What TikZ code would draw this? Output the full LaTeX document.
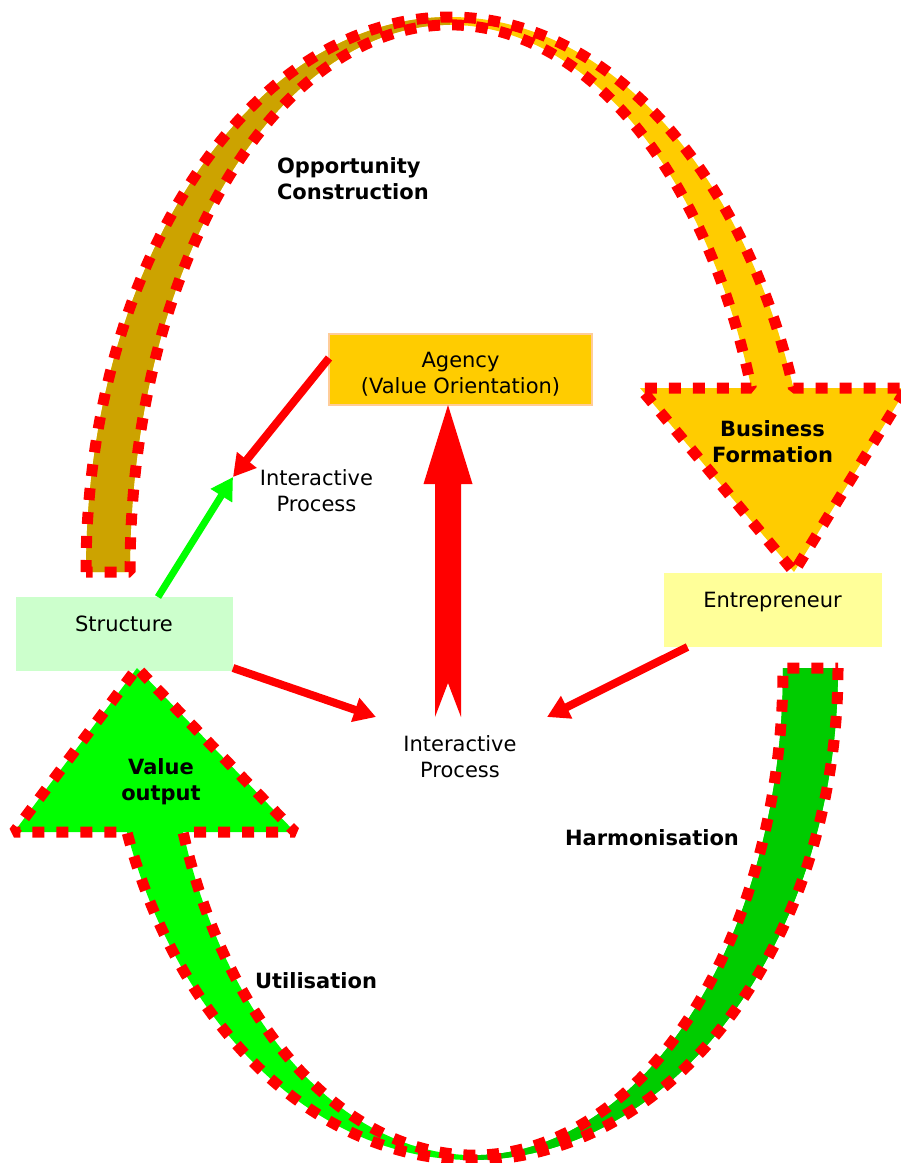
\documentclass[tikz,border=0pt]{standalone}
\usepackage{fontspec}
\setmainfont{DejaVu Sans}
\usetikzlibrary{arrows.meta,calc}

\definecolor{gold}{RGB}{255,204,0}
\definecolor{golddark}{RGB}{204,163,0}
\definecolor{vgreen}{RGB}{0,255,0}
\definecolor{vgreendark}{RGB}{0,204,0}
\definecolor{agencyline}{RGB}{255,204,153}
\definecolor{entfill}{RGB}{255,255,153}
\definecolor{strfill}{RGB}{204,255,204}

% upper curved band with its downward head (tail on the left)
\newcommand\topband{(86,572) arc[start angle=180,end angle=340.638,x radius=364,y radius=555]
  -- (907,388) -- (794,572) -- (640,388) -- (751.35,388)
  arc[start angle=340.343,end angle=180,x radius=320,y radius=547] -- cycle}
% lower curved band with its upward head (tail on the right)
\newcommand\bottomband{(838,668) arc[start angle=0,end angle=160.529,x radius=366,y radius=492]
  -- (14,832) -- (137,668) -- (295,832) -- (183.05,832)
  arc[start angle=160.321,end angle=0,x radius=309,y radius=487] -- cycle}

\begin{document}
\begin{tikzpicture}[x=1pt, y=-1pt,
  every node/.style={inner sep=0pt, outer sep=0pt},
  txt/.style={font=\fontsize{21}{26}\selectfont, align=center},
  bold/.style={font=\fontsize{21}{26}\selectfont\bfseries, align=center},
  boxnode/.style={rectangle, inner sep=0pt, outer sep=0pt},
  conn/.style={draw=red, line width=8pt, -{Triangle[length=22pt,width=24pt]}},
  gconn/.style={draw=vgreen, line width=7pt, -{Triangle[length=22pt,width=24pt]}},
  dotline/.style={draw=red, line width=11pt, line join=bevel, dash pattern=on 12pt off 12pt}]

\useasboundingbox (0,0) rectangle (901,1163);
\clip (0,0) rectangle (901,1163);

% boxes
\node[boxnode, fill=gold, draw=agencyline, line width=2pt, minimum width=263pt, minimum height=71pt] (agencybox) at (460.5,369.5) {};
\node[boxnode, fill=entfill, minimum width=218pt, minimum height=74pt] (entbox) at (772.5,610) {};
\node[boxnode, fill=strfill, minimum width=217pt, minimum height=74pt] (strbox) at (124.5,634) {};

% upper band: bright front, darker back half
\fill[gold] \topband;
\begin{scope}
  \clip (0,0) rectangle (450,600);
  \fill[golddark] \topband;
\end{scope}
\draw[dotline] \topband;

% lower band: bright front, darker back half
\fill[vgreen] \bottomband;
\begin{scope}
  \clip (472,600) rectangle (901,1163);
  \fill[vgreendark] \bottomband;
\end{scope}
\draw[dotline] \bottomband;

% connectors
\coordinate (tipA) at (233,477);
\coordinate (tipB) at (376,717);
\coordinate (tipC) at (547,717);
\draw[conn] ([yshift=11.5pt]agencybox.west) -- (tipA);
\draw[gconn] ([xshift=33.5pt]strbox.north) -- (tipA);
\draw[conn] ([yshift=3pt]strbox.south east) -- (tipB);
\draw[conn] ([xshift=24pt]entbox.south west) -- (tipC);

% broad notched arrow up to Agency
\coordinate (fb) at (448,717);
\coordinate (ft) at ([xshift=-12.5pt]agencybox.south);
\fill[red] ($(fb)+(-13,0)$) -- ($(ft)+(-13,79)$) -- ($(ft)+(-24.5,79)$) -- (ft)
  -- ($(ft)+(24.5,79)$) -- ($(ft)+(13,79)$) -- ($(fb)+(13,0)$) -- ($(fb)+(0,-34)$) -- cycle;

% texts
\node[txt] (agency) at (460.5,374.3) {Agency\\(Value Orientation)};
\node[txt] (entre) at (772.5,602) {Entrepreneur};
\node[txt] (struct) at (124,623.4) {Structure};
\node[txt] (ipup) at (316.5,490.5) {Interactive\\Process};
\node[txt] (iplow) at (460,757) {Interactive\\Process};
\node[bold, align=left, anchor=west] (opp) at (277,179) {Opportunity\\Construction};
\node[bold] (bf) at (772.5,442) {Business\\Formation};
\node[bold] (vo) at (161,782) {Value\\output};
\node[bold] (harm) at (652,837.5) {Harmonisation};
\node[bold] (util) at (316,981) {Utilisation};
\end{tikzpicture}
\end{document}
